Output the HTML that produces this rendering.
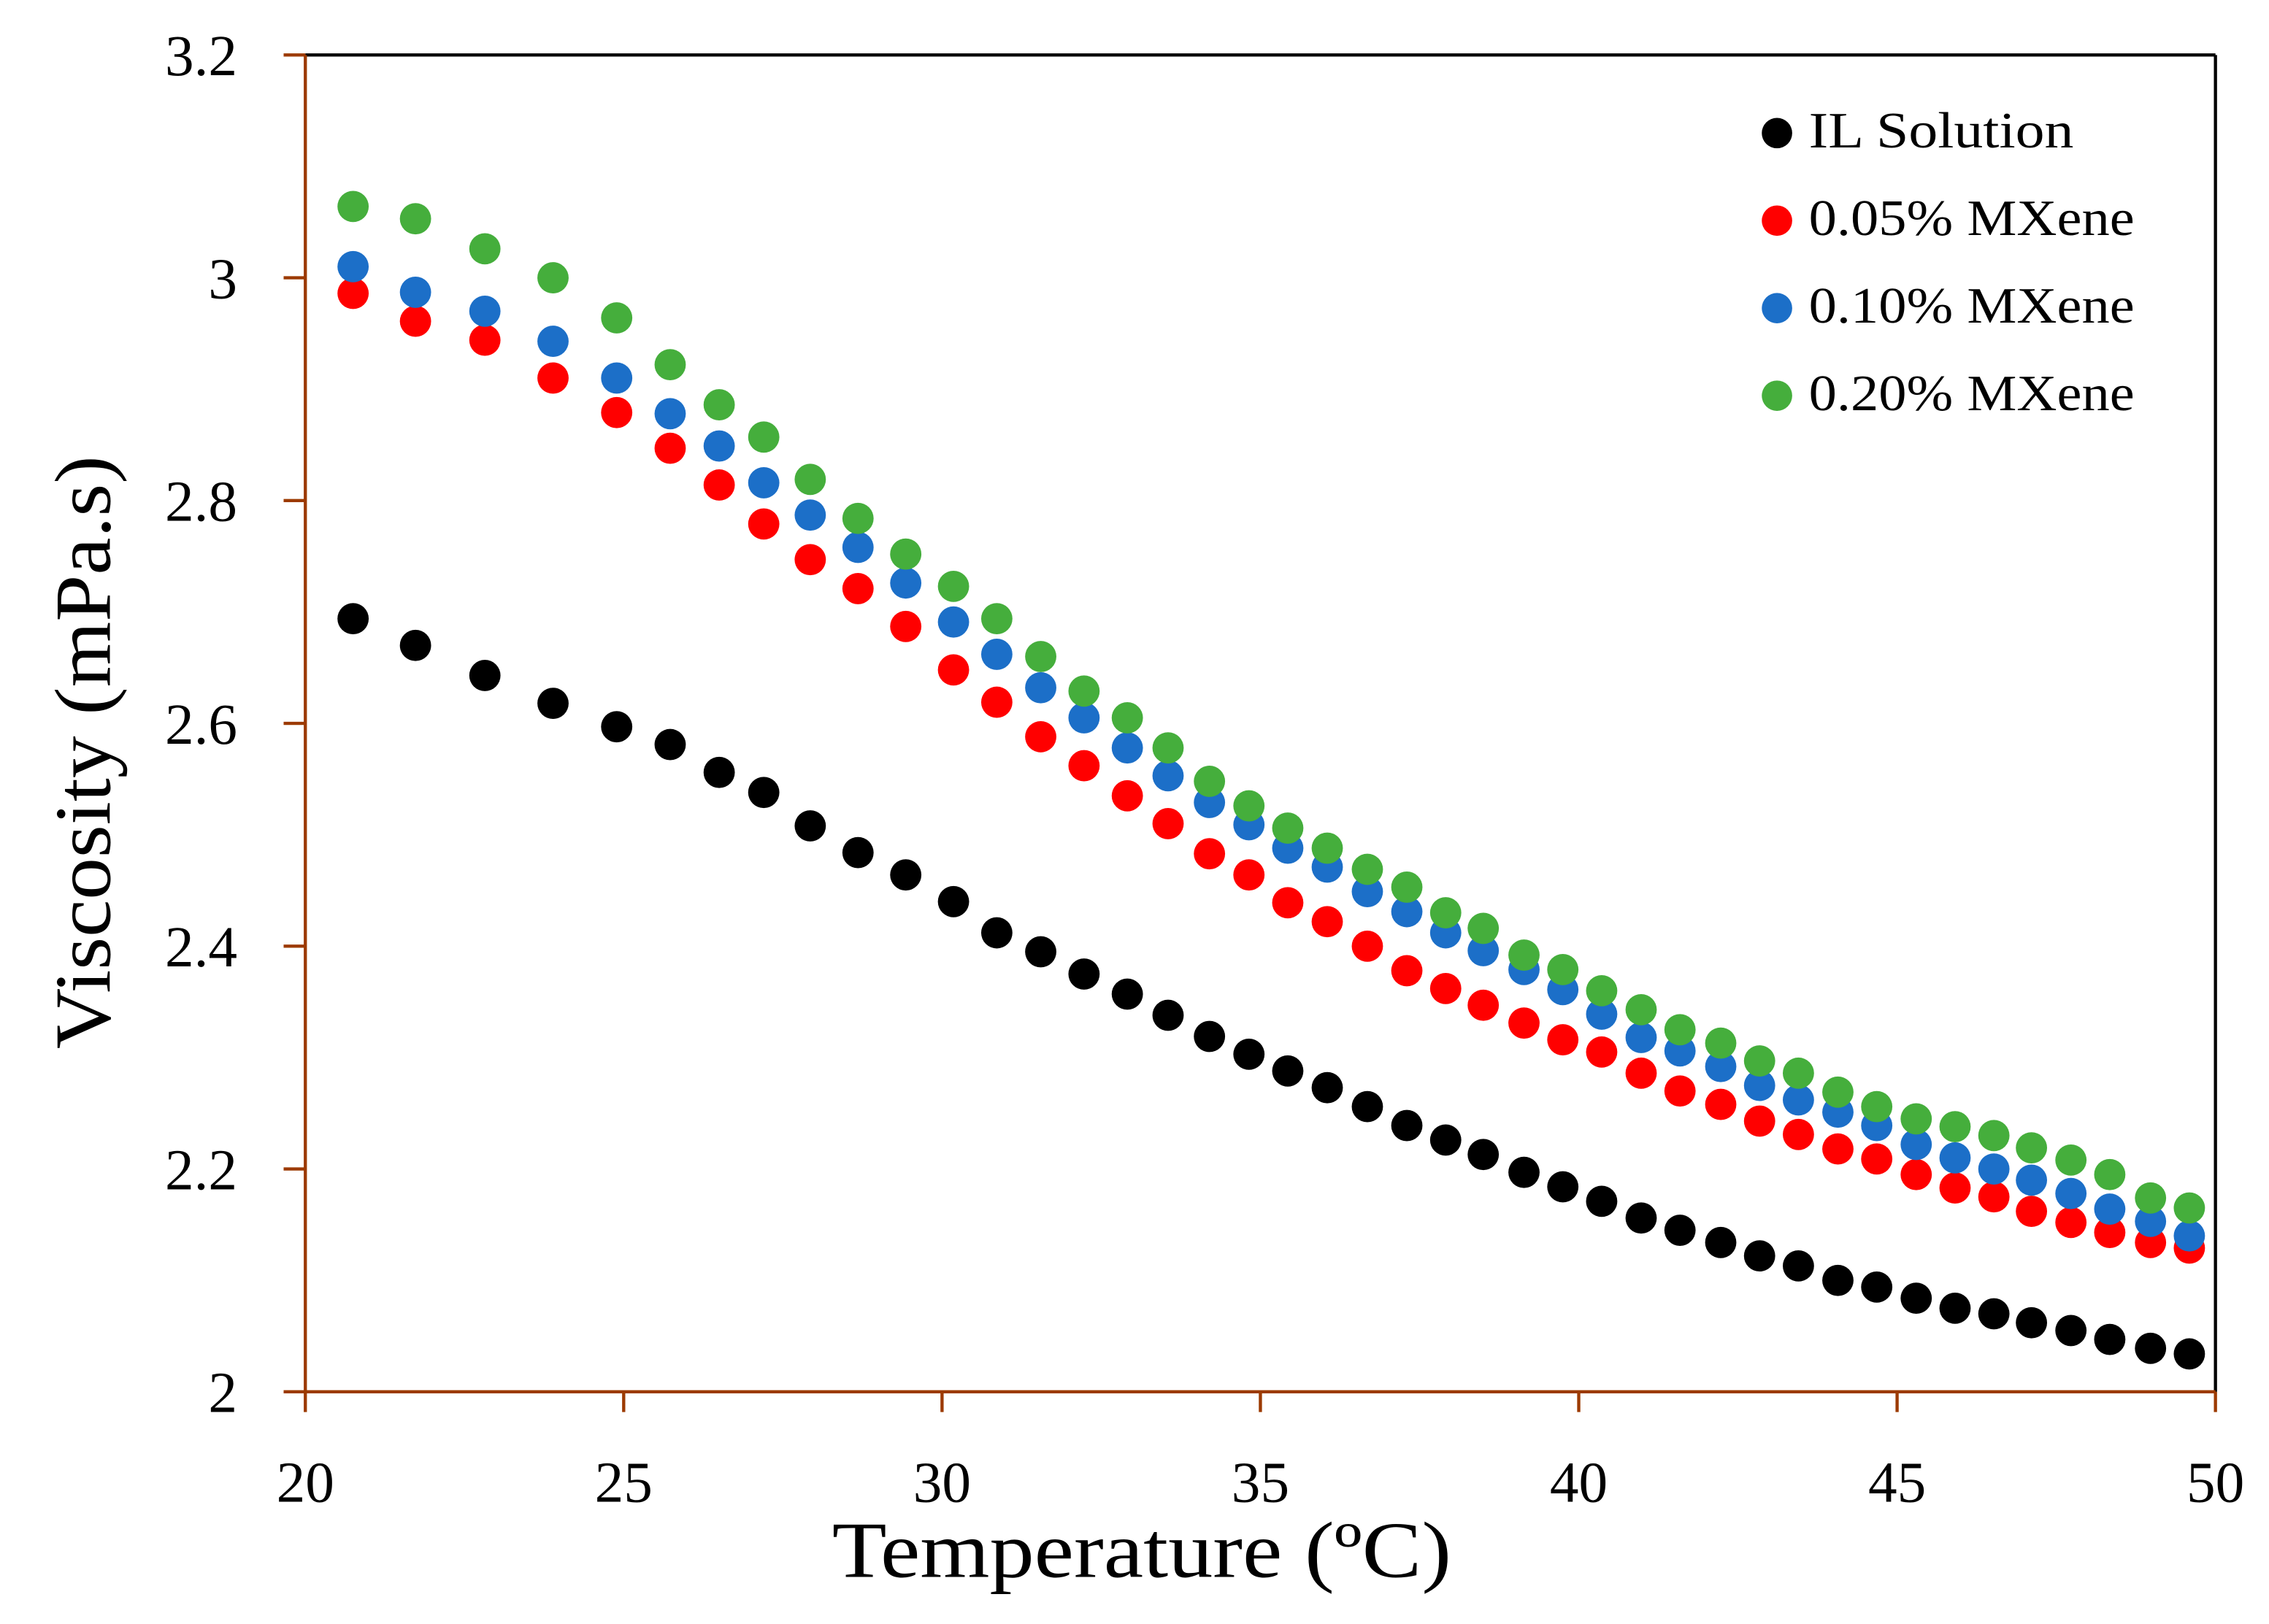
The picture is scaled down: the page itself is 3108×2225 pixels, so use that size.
<!DOCTYPE html>
<html><head><meta charset="utf-8"><style>
html,body{margin:0;padding:0;background:#fff;}
svg{display:block;}
text{font-family:"Liberation Serif",serif;fill:#000;}
</style></head><body>
<svg id="chart" width="3108" height="2225" viewBox="0 0 1568 1122.5" preserveAspectRatio="none" xmlns="http://www.w3.org/2000/svg">
<g id="axes"></g>
<g id="marks"></g>
<g id="legend"></g>
<text x="789" y="1090" font-size="55" text-anchor="middle" textLength="428" lengthAdjust="spacingAndGlyphs">Temperature (ºC)</text>
<text transform="translate(76,520) rotate(-90)" font-size="55" text-anchor="middle" textLength="410" lengthAdjust="spacingAndGlyphs">Viscosity (mPa.s)</text>
</svg>
<script>
const temps=[20.75,21.73,22.82,23.89,24.89,25.73,26.5,27.2,27.93,28.68,29.43,30.18,30.86,31.55,32.23,32.91,33.55,34.2,34.82,35.43,36.05,36.68,37.3,37.91,38.5,39.14,39.75,40.36,40.98,41.59,42.23,42.84,43.45,44.07,44.68,45.3,45.91,46.52,47.11,47.73,48.34,48.98,49.59];
const ilSolution=[2.694,2.670,2.643,2.618,2.597,2.581,2.556,2.538,2.508,2.484,2.464,2.440,2.412,2.395,2.375,2.357,2.338,2.319,2.303,2.288,2.273,2.256,2.239,2.226,2.213,2.197,2.184,2.171,2.156,2.145,2.134,2.122,2.113,2.100,2.094,2.084,2.075,2.070,2.062,2.055,2.047,2.039,2.034];
const mx005=[2.986,2.961,2.944,2.910,2.879,2.847,2.814,2.779,2.747,2.721,2.687,2.648,2.619,2.588,2.562,2.535,2.510,2.483,2.464,2.439,2.422,2.400,2.378,2.362,2.347,2.331,2.316,2.305,2.286,2.270,2.258,2.243,2.231,2.218,2.209,2.195,2.183,2.175,2.162,2.152,2.143,2.134,2.129];
const mx010=[3.010,2.987,2.970,2.943,2.910,2.878,2.849,2.816,2.787,2.758,2.726,2.691,2.662,2.632,2.605,2.578,2.553,2.529,2.509,2.488,2.471,2.449,2.431,2.412,2.396,2.379,2.361,2.339,2.318,2.306,2.292,2.275,2.262,2.251,2.239,2.222,2.210,2.200,2.190,2.178,2.164,2.153,2.140];
const mx020=[3.064,3.053,3.026,3.000,2.964,2.922,2.886,2.857,2.819,2.784,2.752,2.723,2.694,2.660,2.629,2.605,2.578,2.548,2.526,2.506,2.488,2.469,2.453,2.430,2.416,2.392,2.379,2.360,2.343,2.325,2.313,2.297,2.286,2.269,2.256,2.245,2.238,2.230,2.219,2.208,2.195,2.174,2.165];
const seriesNames=["IL Solution","0.05% MXene","0.10% MXene","0.20% MXene"];
const xTicks=[20,25,30,35,40,45,50];
const yTicks=[2,2.2,2.4,2.6,2.8,3,3.2];
const yTickLabels=["2","2.2","2.4","2.6","2.8","3","3.2"];

const NS="http://www.w3.org/2000/svg";
const L=211,R=1531,T=38,B=962;
function xs(v){return L+(v-20)/(50-20)*(R-L);}
function ys(v){return B-(v-2)/(3.2-2)*(B-T);}
function mk(tag,attrs,parent){const e=document.createElementNS(NS,tag);for(const k in attrs)e.setAttribute(k,attrs[k]);parent.appendChild(e);return e;}
const axes=document.getElementById('axes');
const brown="#9C3A00";
let e;
e=mk('line',{x1:L,y1:T,x2:R,y2:T,stroke:'#000','stroke-width':2.2},axes);


e=mk('line',{x1:R,y1:T,x2:R,y2:B,stroke:'#000','stroke-width':2.2},axes);


e=mk('line',{x1:L,y1:T,x2:L,y2:B,stroke:brown,'stroke-width':2.2},axes);


e=mk('line',{x1:L,y1:B,x2:R,y2:B,stroke:brown,'stroke-width':2.2},axes);


xTicks.forEach(t=>{
  const x=xs(t);
  let tk=mk('line',{x1:x,y1:B,x2:x,y2:B+14,stroke:brown,'stroke-width':2.2},axes);
  
  
  let lb=mk('text',{x:x,y:1038,'font-size':40,'text-anchor':'middle'},axes);
  lb.textContent=String(t);
  
  
});
yTicks.forEach((t,i)=>{
  const y=ys(t);
  let tk=mk('line',{x1:L-15,y1:y,x2:L,y2:y,stroke:brown,'stroke-width':2.2},axes);
  
  
  let lb=mk('text',{x:164,y:y+14,'font-size':40,'text-anchor':'end'},axes);
  lb.textContent=yTickLabels[i];
  
  
});
const marks=document.getElementById('marks');
const allSeries=[ilSolution,mx005,mx010,mx020];
const colors=["#000000","#FF0000","#1C6FC8","#45AE3C"];
const snames=["il-solution","mxene-005","mxene-010","mxene-020"];
allSeries.forEach((arr,si)=>{
  const g=mk('g',{},marks);
  
  
  arr.forEach((v,i)=>{
    const c=mk('circle',{cx:xs(temps[i]),cy:ys(v),r:10.8,fill:colors[si]},g);
    
    
  });
});
const leg=document.getElementById('legend');
const legWidths=[183,225,225,225];
seriesNames.forEach((n,i)=>{
  const y=92+i*60.5;
  const c=mk('circle',{cx:1228,cy:y,r:10.5,fill:colors[i]},leg);
  
  
  const t=mk('text',{x:1250,y:y+10,'font-size':35,textLength:legWidths[i],lengthAdjust:'spacingAndGlyphs'},leg);
  t.textContent=n;
  
  
});
</script>
</body></html>
